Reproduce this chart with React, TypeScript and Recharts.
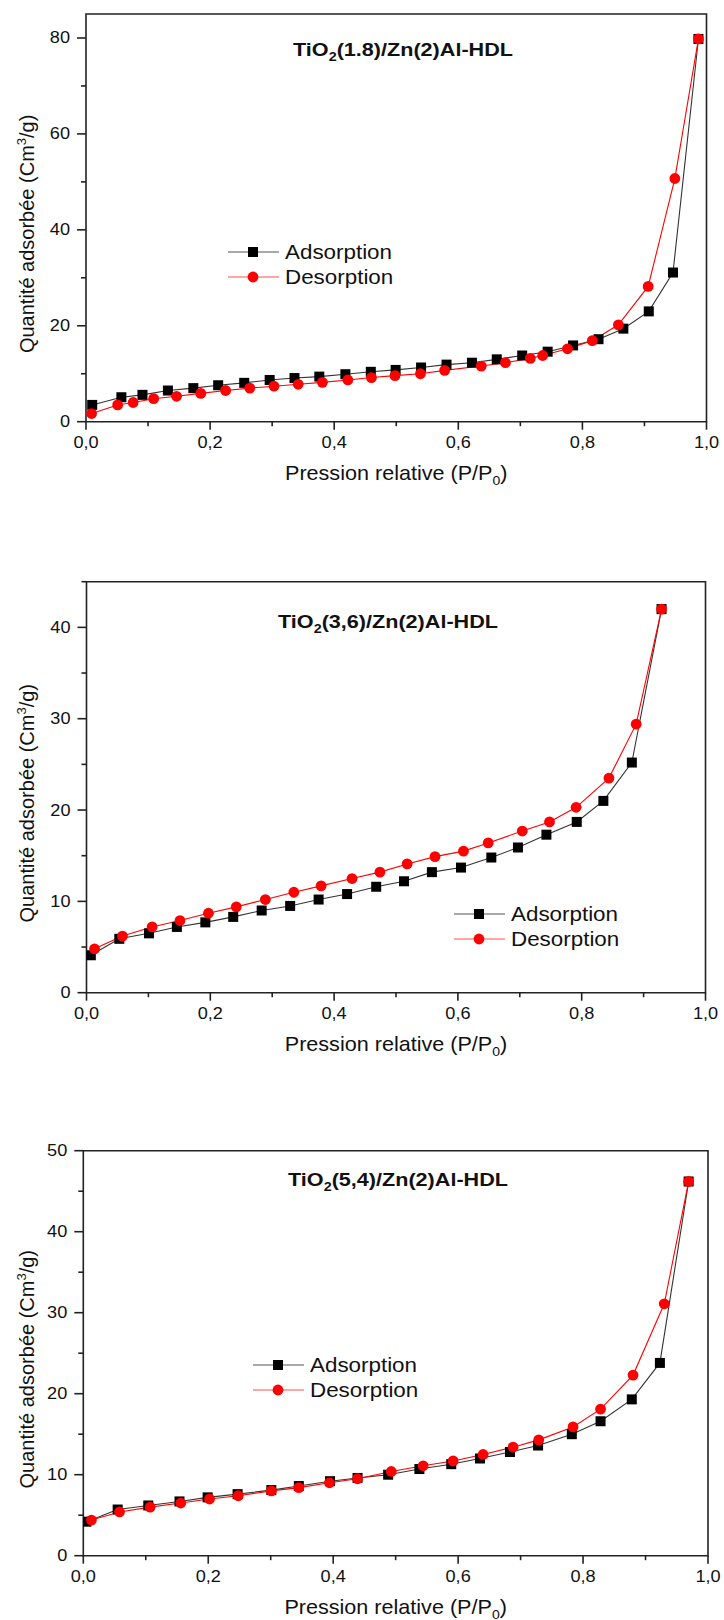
import React from 'react';
import { LineChart, Line, XAxis, YAxis, ReferenceArea, Legend } from 'recharts';

const FONT = '"Liberation Sans", Arial, Helvetica, sans-serif';
const AXIS = '#222';

const seriesNames = ['Adsorption', 'Desorption'];
const xTicks = [0, 0.1, 0.2, 0.3, 0.4, 0.5, 0.6, 0.7, 0.8, 0.9, 1.0];
const xTitle = 'Pression relative (P/P';
const yTitle = 'Quantité adsorbée (Cm';

// Chart 1 : TiO2(1.8)/Zn(2)Al-HDL
const c1Title = '(1.8)/Zn(2)Al-HDL';
const c1YTicks = [0, 10, 20, 30, 40, 50, 60, 70, 80];
const c1AdsX = [0.010, 0.057, 0.091, 0.132, 0.173, 0.213, 0.255, 0.296, 0.336, 0.376, 0.418, 0.459, 0.499, 0.540, 0.581, 0.622, 0.662, 0.703, 0.744, 0.785, 0.826, 0.866, 0.907, 0.946, 0.987];
const c1AdsY = [3.5, 5.1, 5.6, 6.5, 7.0, 7.6, 8.1, 8.7, 9.1, 9.4, 9.9, 10.4, 10.8, 11.3, 11.9, 12.3, 13.0, 13.8, 14.6, 15.9, 17.2, 19.4, 23.0, 31.1, 79.8];
const c1DesX = [0.009, 0.051, 0.076, 0.109, 0.146, 0.185, 0.225, 0.264, 0.303, 0.342, 0.381, 0.422, 0.460, 0.498, 0.539, 0.578, 0.637, 0.676, 0.716, 0.736, 0.776, 0.816, 0.858, 0.906, 0.949, 0.987];
const c1DesY = [1.7, 3.5, 4.0, 4.8, 5.3, 5.9, 6.5, 7.0, 7.4, 7.8, 8.2, 8.7, 9.2, 9.6, 10.0, 10.7, 11.6, 12.3, 13.2, 13.8, 15.2, 16.9, 20.2, 28.2, 50.7, 79.8];

// Chart 2 : TiO2(3,6)/Zn(2)Al-HDL
const c2Title = '(3,6)/Zn(2)Al-HDL';
const c2YTicks = [0, 5, 10, 15, 20, 25, 30, 35, 40, 45];
const c2AdsX = [0.007, 0.053, 0.101, 0.146, 0.192, 0.237, 0.283, 0.329, 0.375, 0.421, 0.468, 0.513, 0.558, 0.605, 0.654, 0.697, 0.743, 0.792, 0.835, 0.881, 0.929];
const c2AdsY = [4.1, 5.9, 6.5, 7.2, 7.7, 8.3, 9.0, 9.5, 10.2, 10.8, 11.6, 12.2, 13.2, 13.7, 14.8, 15.9, 17.3, 18.7, 21.0, 25.2, 42.0];
const c2DesX = [0.013, 0.058, 0.106, 0.151, 0.197, 0.242, 0.289, 0.335, 0.379, 0.429, 0.474, 0.518, 0.563, 0.609, 0.649, 0.704, 0.748, 0.791, 0.844, 0.888, 0.929];
const c2DesY = [4.8, 6.2, 7.2, 7.9, 8.7, 9.4, 10.2, 11.0, 11.7, 12.5, 13.2, 14.1, 14.9, 15.5, 16.4, 17.7, 18.7, 20.3, 23.5, 29.4, 42.0];

// Chart 3 : TiO2(5,4)/Zn(2)Al-HDL
const c3Title = '(5,4)/Zn(2)Al-HDL';
const c3YTicks = [0, 5, 10, 15, 20, 25, 30, 35, 40, 45, 50];
const c3AdsX = [0.005, 0.055, 0.104, 0.154, 0.199, 0.247, 0.301, 0.345, 0.395, 0.439, 0.488, 0.538, 0.589, 0.635, 0.683, 0.728, 0.782, 0.828, 0.878, 0.923, 0.969];
const c3AdsY = [4.2, 5.7, 6.2, 6.7, 7.2, 7.6, 8.1, 8.6, 9.2, 9.6, 10.0, 10.7, 11.3, 12.0, 12.8, 13.6, 15.0, 16.6, 19.3, 23.8, 46.2];
const c3DesX = [0.013, 0.058, 0.107, 0.156, 0.202, 0.248, 0.301, 0.345, 0.394, 0.439, 0.493, 0.544, 0.592, 0.640, 0.688, 0.729, 0.784, 0.828, 0.880, 0.930, 0.969];
const c3DesY = [4.4, 5.4, 6.0, 6.5, 7.0, 7.4, 8.0, 8.4, 9.0, 9.5, 10.4, 11.1, 11.7, 12.5, 13.4, 14.3, 15.9, 18.1, 22.3, 31.1, 46.2];

const zip = (xs: number[], ys: number[]) => xs.map((x, i) => ({ x, y: ys[i] }));

const XTick = (props: any) => {
  const { x, y, payload } = props;
  const v = payload.value as number;
  const major = Math.round(v * 10) % 2 === 0;
  return (
    <g>
      <line x1={x} x2={x} y1={y} y2={y + (major ? 8 : 4.5)} stroke={AXIS} strokeWidth={1.6} />
      {major && (
        <text transform={`translate(${x},${y + 26.5}) scale(1.1,1)`} textAnchor="middle" fontSize={16.5} fontFamily={FONT} fill="#111">
          {v.toFixed(1).replace('.', ',')}
        </text>
      )}
    </g>
  );
};

const makeYTick = (step: number) => (props: any) => {
  const { x, y, payload } = props;
  const v = payload.value as number;
  const major = v % step === 0;
  return (
    <g>
      <line x1={x} x2={x - (major ? 9 : 5)} y1={y} y2={y} stroke={AXIS} strokeWidth={1.6} />
      {major && (
        <text transform={`translate(${x - 16},${y + 5.5}) scale(1.1,1)`} textAnchor="end" fontSize={16.5} fontFamily={FONT} fill="#111">
          {v}
        </text>
      )}
    </g>
  );
};

const Square = (props: any) => {
  const { cx, cy, index } = props;
  if (cx == null || cy == null) return <g key={`sq-${index}`} />;
  return <rect key={`sq-${index}`} x={cx - 5} y={cy - 5} width={10} height={10} fill="#000" />;
};
const Dot = (props: any) => {
  const { cx, cy, index } = props;
  if (cx == null || cy == null) return <g key={`ci-${index}`} />;
  return <circle key={`ci-${index}`} cx={cx} cy={cy} r={5.4} fill="#ff0000" />;
};

const LegendBox = () => (
  <svg width={220} height={56} style={{ overflow: 'visible', display: 'block' }}>
    <line x1={0} x2={51} y1={12} y2={12} stroke="#555" strokeWidth={1.2} />
    <rect x={20} y={7} width={10} height={10} fill="#000" />
    <text transform="translate(57,19) scale(1.12,1)" fontSize={20} fontFamily={FONT} fill="#111">{seriesNames[0]}</text>
    <line x1={0} x2={51} y1={37} y2={37} stroke="#ff5050" strokeWidth={1.2} />
    <circle cx={25} cy={37} r={5.4} fill="#ff0000" />
    <text transform="translate(57,44) scale(1.12,1)" fontSize={20} fontFamily={FONT} fill="#111">{seriesNames[1]}</text>
  </svg>
);

type PanelProps = {
  top: number;
  height: number;
  plotLeft: number;
  plotRight: number;
  plotTop: number;
  plotBottom: number;
  yMax: number;
  yTicks: number[];
  yMajor: number;
  ads: { x: number; y: number }[];
  des: { x: number; y: number }[];
  legendLeft: number;
  legendTop: number;
};

const Panel = (p: PanelProps) => {
  const margin = {
    top: p.plotTop - p.top,
    left: p.plotLeft - 60,
    right: 724 - p.plotRight,
    bottom: p.top + p.height - p.plotBottom - 40,
  };
  return (
    <div style={{ position: 'absolute', left: 0, top: p.top, width: 724, height: p.height }}>
      <LineChart width={724} height={p.height} margin={margin}>
        <XAxis
          type="number"
          dataKey="x"
          domain={[0, 1]}
          ticks={xTicks}
          interval={0}
          tickSize={0}
          tickMargin={0}
          tickLine={false}
          axisLine={false}
          tick={XTick}
          height={40}
          allowDataOverflow
        />
        <YAxis
          type="number"
          dataKey="y"
          domain={[0, p.yMax]}
          ticks={p.yTicks}
          interval={0}
          tickSize={0}
          tickMargin={0}
          tickLine={false}
          axisLine={false}
          tick={makeYTick(p.yMajor)}
          width={60}
          allowDataOverflow
        />
        <ReferenceArea x1={0} x2={1} y1={0} y2={p.yMax} fill="none" fillOpacity={0} stroke={AXIS} strokeWidth={1.6} />
        <Line data={p.ads} dataKey="y" name={seriesNames[0]} type="linear" stroke="#333" strokeWidth={1.1} dot={Square} activeDot={false} isAnimationActive={false} />
        <Line data={p.des} dataKey="y" name={seriesNames[1]} type="linear" stroke="#ff0000" strokeWidth={1.1} dot={Dot} activeDot={false} isAnimationActive={false} />
        <Legend
          layout="vertical"
          align="center"
          verticalAlign="middle"
          content={LegendBox}
          wrapperStyle={{ left: p.legendLeft, top: p.legendTop, width: 220, height: 56 }}
        />
      </LineChart>
    </div>
  );
};

const TitleText = ({ x, y, rest }: { x: number; y: number; rest: string }) => (
  <text transform={`translate(${x},${y}) scale(1.2,1)`} textAnchor="middle" fontSize={18} fontWeight="bold" fontFamily={FONT} fill="#111">
    TiO<tspan fontSize={12} dy={5}>2</tspan>
    <tspan dy={-5}>{rest}</tspan>
  </text>
);

const XTitle = ({ x, y }: { x: number; y: number }) => (
  <text transform={`translate(${x},${y}) scale(1.08,1)`} textAnchor="middle" fontSize={20} fontFamily={FONT} fill="#111">
    {xTitle}
    <tspan fontSize={13} dy={5}>0</tspan>
    <tspan dy={-5}>)</tspan>
  </text>
);

const YTitle = ({ x, y }: { x: number; y: number }) => (
  <text transform={`translate(${x},${y}) rotate(-90)`} textAnchor="middle" fontSize={20} fontFamily={FONT} fill="#111">
    {yTitle}
    <tspan fontSize={13} dy={-8}>3</tspan>
    <tspan dy={8}>/g)</tspan>
  </text>
);

export default function App() {
  const panels: PanelProps[] = [
    { top: 0, height: 500, plotLeft: 86, plotRight: 706.5, plotTop: 14, plotBottom: 421.7, yMax: 85, yTicks: c1YTicks, yMajor: 20, ads: zip(c1AdsX, c1AdsY), des: zip(c1DesX, c1DesY), legendLeft: 228, legendTop: 240 },
    { top: 540, height: 520, plotLeft: 86.5, plotRight: 705.5, plotTop: 581.7, plotBottom: 992.7, yMax: 45, yTicks: c2YTicks, yMajor: 10, ads: zip(c2AdsX, c2AdsY), des: zip(c2DesX, c2DesY), legendLeft: 454, legendTop: 362 },
    { top: 1100, height: 520, plotLeft: 83.3, plotRight: 708, plotTop: 1150.7, plotBottom: 1555.7, yMax: 50, yTicks: c3YTicks, yMajor: 10, ads: zip(c3AdsX, c3AdsY), des: zip(c3DesX, c3DesY), legendLeft: 253, legendTop: 253 },
  ];
  const titles = [c1Title, c2Title, c3Title];
  const titlePos = [
    [403, 56],
    [388, 628],
    [398, 1186],
  ];
  return (
    <div style={{ position: 'absolute', left: 0, top: 0, width: 724, height: 1620, background: '#fff', overflow: 'hidden' }}>
      {panels.map((p, i) => (
        <Panel key={i} {...p} />
      ))}
      <svg width={724} height={1620} style={{ position: 'absolute', left: 0, top: 0, pointerEvents: 'none' }}>
        {panels.map((p, i) => (
          <g key={i}>
            <TitleText x={titlePos[i][0]} y={titlePos[i][1]} rest={titles[i]} />
            <XTitle x={(p.plotLeft + p.plotRight) / 2} y={p.plotBottom + 58.5} />
            <YTitle x={34} y={(p.plotTop + p.plotBottom) / 2 + 16} />
          </g>
        ))}
      </svg>
    </div>
  );
}
